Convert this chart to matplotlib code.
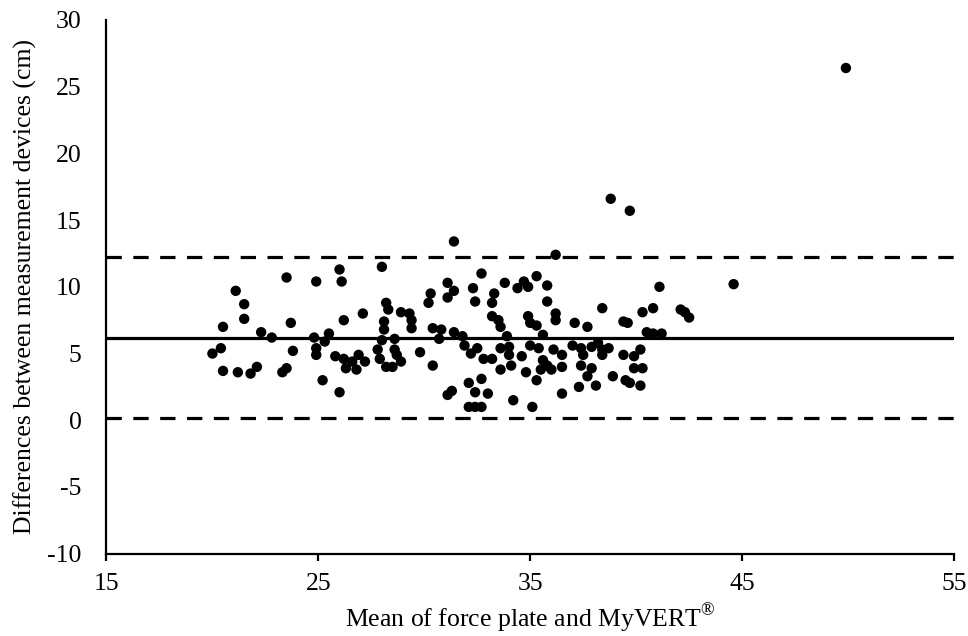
import matplotlib
matplotlib.use("Agg")
import matplotlib.pyplot as plt

# ── Data ──────────────────────────────────────────────────────────────────────
mean_x = [
    20.0, 20.4, 20.5, 20.5, 21.1, 21.2, 21.5, 21.5, 21.8, 22.1,
    22.3, 22.8, 23.3, 23.5, 23.5, 23.7, 23.8, 24.8, 24.9, 24.9,
    24.9, 25.2, 25.3, 25.5, 25.8, 26.0, 26.0, 26.1, 26.2,
    26.2, 26.3, 26.6, 26.9, 27.2, 26.8, 27.1, 28.0, 28.2, 28.3,
    28.1, 28.1, 28.6, 28.0, 27.8, 27.9, 28.6, 28.7, 28.2, 28.5,
    28.9, 28.9, 29.3, 29.4, 29.4, 29.8, 30.3, 30.2, 30.4, 30.4,
    30.8, 30.7, 31.1, 31.1, 31.4, 31.4, 31.1, 31.3, 31.4, 31.8,
    31.9, 32.2, 32.1, 32.3, 32.4, 32.5, 32.7, 32.7, 32.4, 33.0,
    32.1, 32.4, 32.7, 32.8, 33.2, 33.2, 33.3, 33.2,
    33.8, 33.5, 33.6, 33.9, 33.6, 34.0, 34.0, 34.1, 33.6, 34.2,
    34.6, 34.4, 34.7, 34.9, 35.3, 35.8, 35.8, 34.9, 35.0, 35.3,
    35.6, 35.0, 35.4, 35.6, 35.5, 35.8, 34.8, 35.3, 35.1, 36.2,
    36.2, 36.2, 36.1, 36.5, 36.5, 36.0, 36.5, 37.1, 37.0, 37.4,
    37.5, 37.4, 37.7, 37.9, 37.9, 37.7, 37.3, 38.1, 38.4, 38.2,
    38.7, 38.9, 39.4, 39.6, 39.4, 39.9, 40.2, 39.5, 39.7, 40.2,
    40.3, 40.3, 38.4, 38.4, 39.9,
    40.8, 40.5, 40.8, 41.2, 41.1, 42.1, 42.3, 42.5, 44.6,
    38.8, 39.7, 49.9,
]
diff_y = [
    5.0, 5.4, 7.0, 3.7, 9.7, 3.6, 8.7, 7.6, 3.5, 4.0,
    6.6, 6.2, 3.6, 3.9, 10.7, 7.3, 5.2, 6.2, 10.4, 5.4,
    4.9, 3.0, 5.9, 6.5, 4.8, 2.1, 11.3, 10.4, 7.5,
    4.6, 3.9, 4.4, 4.9, 4.4, 3.8, 8.0, 11.5, 8.8, 8.3,
    7.4, 6.8, 6.1, 6.0, 5.3, 4.6, 5.3, 4.9, 4.0, 4.0,
    4.4, 8.1, 8.0, 7.5, 6.9, 5.1, 9.5, 8.8, 6.9, 4.1,
    6.8, 6.1, 10.3, 9.2, 9.7, 6.6, 1.9, 2.2, 13.4, 6.3,
    5.6, 5.0, 2.8, 9.9, 8.9, 5.4, 11.0, 3.1, 2.1, 2.0,
    1.0, 1.0, 1.0, 4.6, 8.8, 7.8, 9.5, 4.6,
    10.3, 7.5, 7.0, 6.3, 5.4, 5.5, 4.9, 4.1, 3.8, 1.5,
    4.8, 9.9, 10.4, 10.0, 10.8, 10.1, 8.9, 7.8, 7.3, 7.1,
    6.4, 5.6, 5.4, 4.5, 3.8, 4.1, 3.6, 3.0, 1.0, 12.4,
    8.0, 7.5, 5.3, 4.9, 4.0, 3.8, 2.0, 7.3, 5.6, 5.4,
    4.9, 4.1, 7.0, 5.5, 3.9, 3.3, 2.5, 2.6, 8.4, 5.8,
    5.4, 3.3, 7.4, 7.3, 4.9, 4.8, 5.3, 3.0, 2.8, 2.6,
    3.9, 8.1, 5.3, 4.9, 3.9,
    8.4, 6.6, 6.5, 6.5, 10.0, 8.3, 8.1, 7.7, 10.2,
    16.6, 15.7, 26.4,
]

BIAS  = 6.2     # mean difference
UPPER = 12.2    # upper limit of agreement
LOWER = 0.2     # lower limit of agreement

X_TICKS = [15, 25, 35, 45, 55]
Y_TICKS = [-10, -5, 0, 5, 10, 15, 20, 25, 30]

FS = 18.5

# ── Style ─────────────────────────────────────────────────────────────────────
plt.rcParams["font.family"] = ["Liberation Serif", "DejaVu Serif"]
plt.rcParams["mathtext.fontset"] = "custom"
plt.rcParams["mathtext.rm"] = "Liberation Serif"
plt.rcParams["axes.unicode_minus"] = False

fig = plt.figure(figsize=(9.68, 6.36), dpi=100)
ax = fig.add_axes([0.110, 0.1294, 0.8755, 0.8392])

# ── Lines ─────────────────────────────────────────────────────────────────────
ax.axhline(BIAS, color="black", linewidth=2.3, zorder=2)
for lim in (UPPER, LOWER):
    ax.axhline(lim, color="black", linewidth=2.3, linestyle=(0, (4.8, 3.6)), zorder=2)

# ── Points ────────────────────────────────────────────────────────────────────
ax.scatter(mean_x, diff_y, s=56, color="black", edgecolors="none", zorder=3)

ax.set_xlim(15, 55)
ax.set_ylim(-10, 30)
ax.set_xticks(X_TICKS)
ax.set_yticks(Y_TICKS)

for side in ("top", "right"):
    ax.spines[side].set_visible(False)
for side in ("left", "bottom"):
    ax.spines[side].set_linewidth(1.6)

ax.tick_params(axis="x", direction="out", length=5, width=1.6, labelsize=FS, pad=9)
ax.tick_params(axis="y", length=0, labelsize=FS, pad=18)

ax.set_xlabel(r"Mean of force plate and MyVERT$^{\circledR}$", fontsize=FS, labelpad=5)
ax.set_ylabel("Differences between measurement devices (cm)", fontsize=FS, labelpad=7)

fig.savefig("out.png", dpi=100)
